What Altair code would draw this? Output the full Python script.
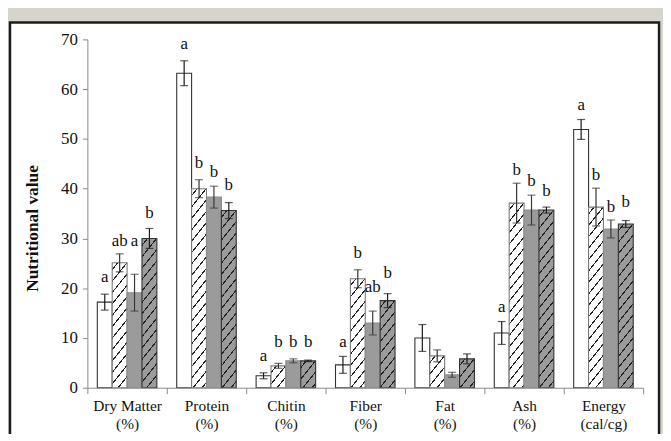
import altair as alt
import pandas as pd

# ---------------- data ----------------
categories = ["Dry Matter", "Protein", "Chitin", "Fiber", "Fat", "Ash", "Energy"]
units = ["(%)", "(%)", "(%)", "(%)", "(%)", "(%)", "(cal/cg)"]
series = ["S1", "S2", "S3", "S4"]

s1_mean = [17.2, 63.2, 2.4, 4.6, 10.0, 11.0, 51.9]
s2_mean = [25.1, 40.0, 4.4, 21.9, 6.4, 37.1, 36.3]
s3_mean = [19.1, 38.3, 5.4, 13.0, 2.6, 35.7, 31.9]
s4_mean = [30.0, 35.6, 5.4, 17.5, 5.8, 35.7, 32.9]

s1_err = [1.6, 2.5, 0.6, 1.7, 2.7, 2.3, 2.0]
s2_err = [1.8, 1.8, 0.5, 1.8, 1.2, 4.0, 3.8]
s3_err = [3.7, 2.2, 0.4, 2.4, 0.5, 3.0, 1.8]
s4_err = [2.0, 1.6, 0.15, 1.4, 1.0, 0.6, 0.7]

s1_letter = ["a", "a", "a", "a", "", "a", "a"]
s2_letter = ["ab", "b", "b", "b", "", "b", "b"]
s3_letter = ["a", "b", "b", "ab", "", "b", "b"]
s4_letter = ["b", "b", "b", "b", "", "b", "b"]

s1_letter_y = [22.3, 69.0, 6.4, 9.2, 0, 16.2, 56.8]
s2_letter_y = [29.5, 45.1, 9.2, 27.1, 0, 43.7, 42.7]
s3_letter_y = [29.5, 43.3, 9.2, 20.3, 0, 41.5, 36.3]
s4_letter_y = [35.1, 40.7, 9.2, 23.1, 0, 39.5, 37.3]

means = [s1_mean, s2_mean, s3_mean, s4_mean]
errs = [s1_err, s2_err, s3_err, s4_err]
letters = [s1_letter, s2_letter, s3_letter, s4_letter]
letter_ys = [s1_letter_y, s2_letter_y, s3_letter_y, s4_letter_y]

cat_labels = [f"{c}|{u}" for c, u in zip(categories, units)]

rows = []
for si, s in enumerate(series):
    for ci, c in enumerate(cat_labels):
        m = means[si][ci]
        e = errs[si][ci]
        rows.append({"cat": c, "series": s, "value": m, "lo": m - e, "hi": m + e,
                     "letter": letters[si][ci], "ly": letter_ys[si][ci]})
df = pd.DataFrame(rows)

# ---------------- styling ----------------
PLOT_W, PLOT_H = 560, 351
Y_MAX = 70
BAR_W = 15.0
GRAY = "#9b9b9b"
SERIF = "Liberation Serif"

# hatch pattern simulated with a hard-stop linear gradient (bbox units)
SLOPE = 1.25
PERIOD = 11.5
LINE_W = 1.1


def hatch(value, bg, fg):
    h = max(value * PLOT_H / Y_MAX, 1.0)
    w = BAR_W
    d = SLOPE * w + h
    k = d / (SLOPE ** 2 * w ** 2 + h ** 2)
    gx, gy = SLOPE * w * k, h * k
    half = LINE_W * (1 + SLOPE ** 2) ** 0.5 / 2
    stops = [{"offset": 0, "color": bg}]
    c = PERIOD * 0.6
    while c - half < d:
        a = round(max(0.0, (c - half) / d), 5)
        b = round(min(1.0, (c + half) / d), 5)
        stops += [{"offset": a, "color": bg}, {"offset": a, "color": fg},
                  {"offset": b, "color": fg}, {"offset": b, "color": bg}]
        c += PERIOD
    stops.append({"offset": 1, "color": bg})
    return {"gradient": "linear", "x1": 0, "y1": 0, "x2": round(gx, 5),
            "y2": round(gy, 5), "stops": stops}


conds = []
for r in rows:
    if r["series"] == "S2":
        conds.append({"test": f"datum.cat === '{r['cat']}' && datum.series === 'S2'",
                      "value": hatch(r["value"], "#ffffff", "#222222")})
    elif r["series"] == "S4":
        conds.append({"test": f"datum.cat === '{r['cat']}' && datum.series === 'S4'",
                      "value": hatch(r["value"], GRAY, "#222222")})
conds.append({"test": "datum.series === 'S3'", "value": GRAY})

x_enc = alt.X("cat:N", sort=cat_labels,
              scale=alt.Scale(paddingInner=0, paddingOuter=0),
              axis=alt.Axis(title=None, labelAngle=0, tickBand="extent",
                            tickSize=6, labelPadding=5, zindex=1,
                            labelExpr="split(datum.label, '|')",
                            labelFont=SERIF, labelFontSize=15.5,
                            labelLineHeight=18, labelColor="#111",
                            domainColor="#8a8a8a", tickColor="#8a8a8a"))
xo_enc = alt.XOffset("series:N", sort=series,
                     scale=alt.Scale(paddingOuter=2 / 3, paddingInner=0))
y_scale = alt.Scale(domain=[0, Y_MAX], nice=False)

base = alt.Chart(df)

panel = alt.Chart(alt.Data(values=[{}])).mark_rect(
    fill="white", stroke="#1c1c1c", strokeWidth=2.5
).encode(x=alt.value(-78), x2=alt.value(576), y=alt.value(-17), y2=alt.value(430))

bars = base.mark_bar(strokeWidth=1.1).encode(
    x=x_enc,
    xOffset=xo_enc,
    y=alt.Y("value:Q", scale=y_scale,
            axis=alt.Axis(values=list(range(0, 71, 10)), title="Nutritional value",
                          grid=False, tickSize=5, labelPadding=5, zindex=1,
                          labelFont=SERIF, labelFontSize=17, labelColor="#111",
                          titleFont=SERIF, titleFontSize=17.5, titleFontWeight="bold",
                          titleColor="#111", titlePadding=19, titleY=190,
                          domainColor="#8a8a8a", tickColor="#8a8a8a")),
    fill=alt.value("white", condition=conds),
    stroke=alt.Stroke("series:N", sort=series, legend=None,
                      scale=alt.Scale(domain=series,
                                      range=["#333333", "#7a7a7a", "#8a8a8a", "#333333"])),
)

err_scale = alt.Scale(domain=series, range=["#1a1a1a", "#333333", "#3a3a3a", "#1a1a1a"])

rules = base.mark_rule(strokeWidth=1.2).encode(
    x=alt.X("cat:N", sort=cat_labels),
    xOffset=alt.XOffset("series:N", sort=series),
    y=alt.Y("lo:Q", scale=y_scale),
    y2="hi:Q",
    color=alt.Color("series:N", scale=err_scale, legend=None),
)

caps_hi = base.mark_tick(size=8, thickness=1.2).encode(
    x=alt.X("cat:N", sort=cat_labels),
    xOffset=alt.XOffset("series:N", sort=series),
    y=alt.Y("hi:Q", scale=y_scale),
    color=alt.Color("series:N", scale=err_scale, legend=None),
)
caps_lo = base.mark_tick(size=8, thickness=1.2).encode(
    x=alt.X("cat:N", sort=cat_labels),
    xOffset=alt.XOffset("series:N", sort=series),
    y=alt.Y("lo:Q", scale=y_scale),
    color=alt.Color("series:N", scale=err_scale, legend=None),
)

labels = base.transform_filter("datum.letter != ''").mark_text(
    font=SERIF, fontSize=17, color="#111", baseline="middle"
).encode(
    x=alt.X("cat:N", sort=cat_labels),
    xOffset=alt.XOffset("series:N", sort=series),
    y=alt.Y("ly:Q", scale=y_scale),
    text="letter:N",
)

chart = alt.layer(panel, bars, rules, caps_hi, caps_lo, labels).properties(
    width=PLOT_W, height=PLOT_H,
    padding={"left": 80, "top": 30, "right": 20, "bottom": 45},
    autosize=alt.AutoSizeParams(type="none"),
    background="#d7d3cd",
).resolve_scale(color="shared").configure_view(stroke=None)

chart.save("out.html", embed_options={"renderer": "svg", "actions": False})
